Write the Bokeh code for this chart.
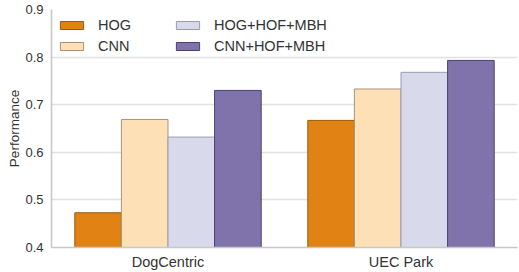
from bokeh.plotting import figure
from bokeh.models import ColumnDataSource, FactorRange, Legend, LegendItem, FixedTicker, Range1d
from bokeh.transform import dodge
from bokeh.embed import file_html
from bokeh.resources import INLINE

datasets = ["DogCentric", "UEC Park"]
methods = ["HOG", "CNN", "HOG+HOF+MBH", "CNN+HOF+MBH"]
hog = [0.473, 0.667]
cnn = [0.669, 0.733]
hog_hof_mbh = [0.632, 0.768]
cnn_hof_mbh = [0.730, 0.793]
y_ticks = [0.4, 0.5, 0.6, 0.7, 0.8, 0.9]

fills = ["#e08214", "#fee0b6", "#d8daeb", "#8073ac"]
edges = ["#9a5a0e", "#a8937a", "#9a9cb0", "#4a4270"]
FONT = "Liberation Sans"

source = ColumnDataSource(dict(x=datasets, hog=hog, cnn=cnn, hhm=hog_hof_mbh, chm=cnn_hof_mbh))

p = figure(x_range=FactorRange(*datasets, range_padding=0), y_range=Range1d(0.4, 0.9),
           width=519, height=272, output_backend="svg", toolbar_location=None,
           min_border_left=51, min_border_right=2, min_border_top=9, min_border_bottom=24)

cols = ["hog", "cnn", "hhm", "chm"]
offsets = [-0.3, -0.1, 0.1, 0.3]
renderers = []
for c, off, f, e in zip(cols, offsets, fills, edges):
    r = p.vbar(x=dodge("x", off, range=p.x_range), top=c, bottom=0.4, width=0.2, source=source,
               fill_color=f, line_color=e, line_width=1)
    renderers.append(r)

p.outline_line_color = None
p.xgrid.grid_line_color = None
p.ygrid.grid_line_color = "#e2e2e2"
p.ygrid.grid_line_width = 1.6
p.yaxis.ticker = FixedTicker(ticks=y_ticks)
p.yaxis.axis_label = "Performance"

for ax in (p.xaxis[0], p.yaxis[0]):
    ax.axis_line_color = "#c8c8c8"
    ax.axis_line_width = 1.6
    ax.major_tick_line_color = None
    ax.minor_tick_line_color = None
    ax.major_tick_out = 0
    ax.major_tick_in = 0
    ax.major_label_text_font = FONT
    ax.major_label_text_color = "#333333"
    ax.axis_label_text_font = FONT
    ax.axis_label_text_font_style = "normal"
    ax.axis_label_text_color = "#333333"

p.yaxis.major_label_text_font_size = "13px"
p.yaxis.axis_label_text_font_size = "13.5px"
p.yaxis.major_label_standoff = 8
p.yaxis.axis_label_standoff = 0
p.xaxis.major_label_text_font_size = "14.5px"
p.xaxis.major_label_standoff = 6

def make_legend(items, loc):
    lg = Legend(items=items, location=loc, orientation="vertical",
                glyph_width=29, glyph_height=10, label_standoff=12, label_height=18,
                spacing=3, padding=0, margin=0,
                label_text_font=FONT, label_text_font_size="14.5px", label_text_color="#333333",
                border_line_alpha=0, background_fill_alpha=0)
    return lg

lg1 = make_legend([LegendItem(label=methods[0], renderers=[renderers[0]]),
                   LegendItem(label=methods[1], renderers=[renderers[1]])], (6, 192))
lg2 = make_legend([LegendItem(label=methods[2], renderers=[renderers[2]]),
                   LegendItem(label=methods[3], renderers=[renderers[3]])], (122, 192))
p.add_layout(lg1, "center")
p.add_layout(lg2, "center")

open("out.html", "w").write(file_html(p, INLINE))
